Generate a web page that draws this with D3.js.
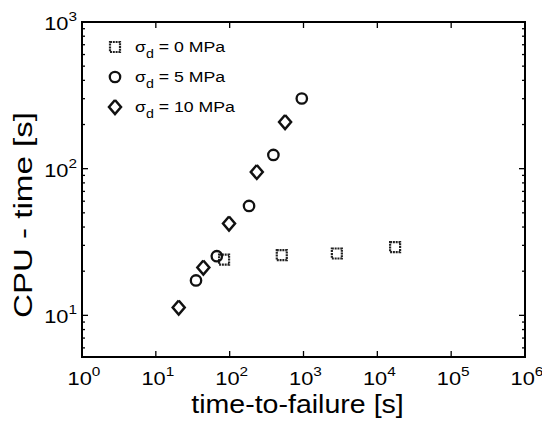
<!DOCTYPE html>
<html>
<head>
<meta charset="utf-8">
<script src="https://cdn.jsdelivr.net/npm/d3@7"></script>
<style>
  body { margin: 0; background: #fff; }
  svg text { font-family: "Liberation Sans", Arial, sans-serif; fill: #000; }
</style>
</head>
<body>
<svg id="svg" width="542" height="421"></svg>
<script>
// data
var sq0_x = [84, 508, 2830, 17400];
var sq0_y = [24, 25.7, 26.4, 29.2];
var ci5_x = [35, 67, 183, 391, 948];
var ci5_y = [17.3, 25.3, 55.7, 124, 301];
var di10_x = [20.4, 44, 98, 233, 563];
var di10_y = [11.3, 21.2, 42.3, 95, 208];
var seriesNames = ["0 MPa", "5 MPa", "10 MPa"];
var xTicks = [1, 10, 100, 1e3, 1e4, 1e5, 1e6];
var yTicks = [10, 100, 1000];

var L = 82, R = 525, T = 22, B = 357;
var svg = d3.select("#svg");

var x = d3.scaleLog().domain([1, 1e6]).range([L, R]);
var y = d3.scaleLog().domain([5.2, 1000]).range([B, T]);

// minor ticks
function minors(lo, hi) {
  var out = [];
  for (var e = Math.floor(Math.log10(lo)); e < Math.ceil(Math.log10(hi)); e++) {
    for (var k = 2; k < 10; k++) {
      var v = k * Math.pow(10, e);
      if (v > lo && v < hi) out.push(v);
    }
  }
  return out;
}

var ax = svg.append("g").attr("stroke", "#000").attr("stroke-width", 1.3);
minors(5.2, 1000).forEach(function(v) {
  ax.append("line").attr("y1", y(v)).attr("y2", y(v)).attr("x1", L).attr("x2", L + 3);
  ax.append("line").attr("y1", y(v)).attr("y2", y(v)).attr("x1", R).attr("x2", R - 3);
});
xTicks.forEach(function(v) {
  ax.append("line").attr("x1", x(v)).attr("x2", x(v)).attr("y1", B).attr("y2", B - 6);
  ax.append("line").attr("x1", x(v)).attr("x2", x(v)).attr("y1", T).attr("y2", T + 6);
});
yTicks.forEach(function(v) {
  ax.append("line").attr("y1", y(v)).attr("y2", y(v)).attr("x1", L).attr("x2", L + 6);
  ax.append("line").attr("y1", y(v)).attr("y2", y(v)).attr("x1", R).attr("x2", R - 6);
});

svg.append("rect")
  .attr("x", L).attr("y", T).attr("width", R - L).attr("height", B - T)
  .attr("fill", "none").attr("stroke", "#000").attr("stroke-width", 2);

// tick labels (the scan is a bit wide, so stretch them sideways)
function powLabel(g, v, px, py, anchor) {
  var t = g.append("text")
    .attr("transform", "translate(" + px + "," + py + ") scale(1.18,1)")
    .attr("text-anchor", anchor).attr("font-size", 18.5);
  t.append("tspan").text("10");
  t.append("tspan").attr("dy", -9).attr("font-size", 13).text(Math.round(Math.log10(v)));
}
var lab = svg.append("g");
xTicks.forEach(function(v) { powLabel(lab, v, x(v) + 2, B + 28, "middle"); });
yTicks.forEach(function(v) { powLabel(lab, v, L - 5, y(v) + 8, "end"); });

// axis titles
svg.append("text").attr("transform", "translate(297.5,413) scale(1.12,1)")
  .attr("text-anchor", "middle").attr("font-size", 25.5)
  .text("time-to-failure [s]");
svg.append("text").attr("transform", "translate(32,215) rotate(-90) scale(1.25,1)")
  .attr("text-anchor", "middle").attr("font-size", 26.5)
  .text("CPU - time [s]");

// markers
var marks = svg.append("g").attr("fill", "none").attr("stroke", "#111");
function square(g, cx, cy) {
  g.append("rect").attr("x", cx - 5).attr("y", cy - 5).attr("width", 10).attr("height", 10)
    .attr("stroke", "#222").attr("stroke-width", 2.2).attr("stroke-dasharray", "2,0.8");
}
function circle(g, cx, cy) {
  g.append("circle").attr("cx", cx).attr("cy", cy).attr("r", 5.2).attr("stroke-width", 2.3);
}
function diamond(g, cx, cy) {
  g.append("path").attr("d", d3.line()([[cx, cy - 7], [cx + 6, cy], [cx, cy + 7], [cx - 6, cy], [cx, cy - 7]]))
    .attr("stroke-width", 2.5).attr("stroke-linejoin", "miter");
}
sq0_x.forEach(function(v, i) { square(marks, x(v), y(sq0_y[i])); });
ci5_x.forEach(function(v, i) { circle(marks, x(v), y(ci5_y[i])); });
di10_x.forEach(function(v, i) { diamond(marks, x(v), y(di10_y[i])); });

// legend
var lg = svg.append("g");
var draws = [square, circle, diamond];
seriesNames.forEach(function(n, i) {
  var ly = 47 + i * 30;
  draws[i](marks, 115, ly);
  var t = lg.append("text")
    .attr("transform", "translate(135," + (ly + 5) + ") scale(1.18,1)")
    .attr("font-size", 15);
  t.append("tspan").text("\u03c3");
  t.append("tspan").attr("dy", 6).attr("font-size", 12).text("d");
  t.append("tspan").attr("dy", -6).text(" = " + n);
});
</script>
</body>
</html>
